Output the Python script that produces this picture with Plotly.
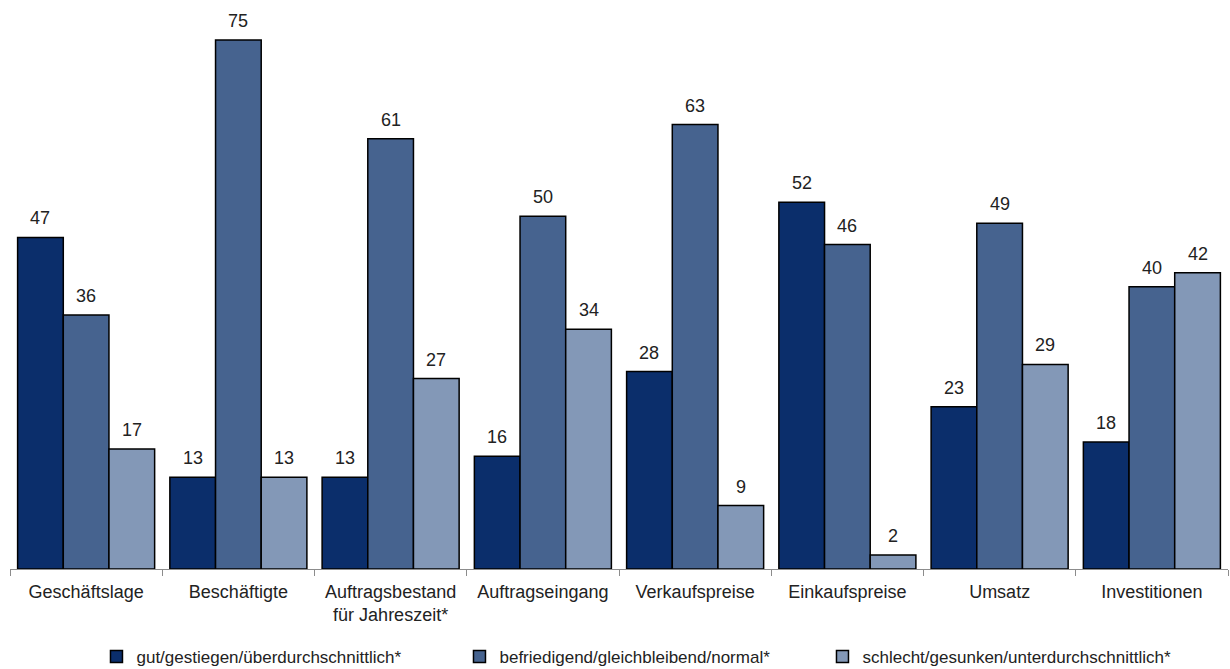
import plotly.graph_objects as go
import numpy as np

categories = ["Geschäftslage", "Beschäftigte", "Auftragsbestand<br>für Jahreszeit*",
              "Auftragseingang", "Verkaufspreise", "Einkaufspreise", "Umsatz", "Investitionen"]
series_names = ["gut/gestiegen/überdurchschnittlich*",
                "befriedigend/gleichbleibend/normal*",
                "schlecht/gesunken/unterdurchschnittlich*"]
gut = [47, 13, 13, 16, 28, 52, 23, 18]
befriedigend = [36, 75, 61, 50, 63, 46, 49, 40]
schlecht = [17, 13, 27, 34, 9, 2, 29, 42]

colors = ["#0b2e6b", "#46638f", "#8398b7"]
FONT = "Liberation Sans, Arial, sans-serif"

fig = go.Figure()
centers = np.arange(len(categories))
bar_w = 0.3
all_series = [gut, befriedigend, schlecht]
for j, (name, vals, col) in enumerate(zip(series_names, all_series, colors)):
    xs = centers + (j - 1) * bar_w
    fig.add_trace(go.Bar(
        x=xs, y=vals, width=bar_w, name=name,
        marker=dict(color=col, line=dict(color="#000000", width=1.5)),
    ))
    for x, v in zip(xs, vals):
        fig.add_annotation(x=x, y=v, xref="x", yref="y", text=str(v),
                           showarrow=False, yanchor="bottom", yshift=7,
                           font=dict(family=FONT, size=18, color="#222222"))

fig.update_layout(
    width=1230, height=669,
    margin=dict(l=10, r=2, t=10, b=100, autoexpand=False),
    plot_bgcolor="white", paper_bgcolor="white",
    font=dict(family=FONT, size=18, color="#222222"),
    showlegend=True,
    legend=dict(orientation="h", x=0.071, xanchor="left",
                yref="container", y=0.018, yanchor="middle",
                entrywidth=318, entrywidthmode="pixels",
                font=dict(family=FONT, size=17, color="#222222"),
                traceorder="normal"),
    xaxis=dict(range=[-0.5, len(categories) - 0.5], tickvals=list(centers), ticktext=categories,
               ticks="", showgrid=False, zeroline=False,
               showline=True, linecolor="#8c8c8c", linewidth=1,
               tickfont=dict(family=FONT, size=18, color="#222222"),
               ticklabelstandoff=6,
               minor=dict(tickvals=[i - 0.5 for i in range(len(categories) + 1)],
                          ticks="outside", ticklen=6, tickcolor="#8c8c8c", tickwidth=1,
                          showgrid=False)),
    yaxis=dict(visible=False, range=[0, 79.25]),
)

fig.write_html("out.html")
